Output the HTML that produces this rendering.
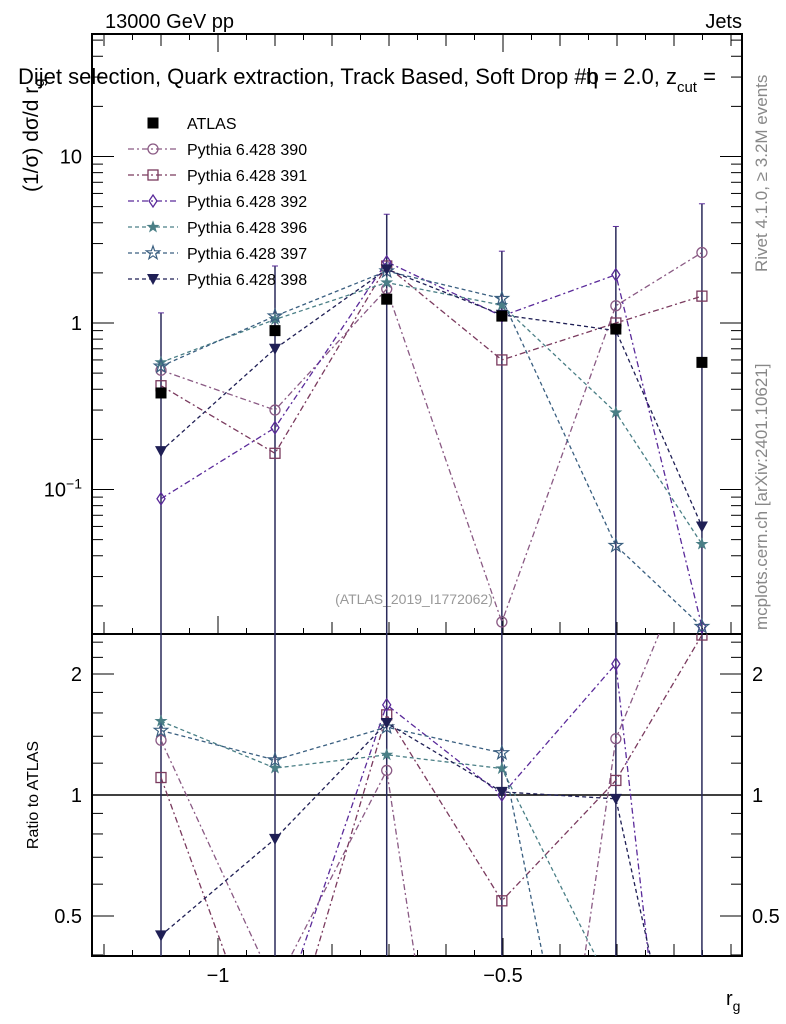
<!DOCTYPE html>
<html><head><meta charset="utf-8"><style>
html,body{margin:0;background:#fff;overflow:hidden;width:786px;height:1024px;}
svg{display:block;font-family:"Liberation Sans",sans-serif;}
</style></head><body>
<svg id="c" width="786" height="1024" xmlns="http://www.w3.org/2000/svg" overflow="hidden">
<text x="105" y="28" font-size="20">13000 GeV pp</text>
<text x="742" y="28" font-size="20" text-anchor="end">Jets</text>
<text x="18" y="84" font-size="22">Dijet selection, Quark extraction, Track Based, Soft Drop #b<tspan dx="-13">η</tspan> = 2.0, z<tspan font-size="15" dy="8">cut</tspan><tspan dy="-8"> =</tspan></text>
<text transform="translate(38,192) rotate(-90)" font-size="21">(1/σ) dσ/d r<tspan font-size="15" dy="6">g</tspan></text>
<text transform="translate(38,795) rotate(-90)" font-size="16" text-anchor="middle">Ratio to ATLAS</text>
<text x="726" y="1005" font-size="20">r<tspan font-size="14" dy="6">g</tspan></text>
<text transform="translate(767,272) rotate(-90)" font-size="17" fill="#888">Rivet 4.1.0, ≥ 3.2M events</text>
<text transform="translate(767,630) rotate(-90)" font-size="17" fill="#888">mcplots.cern.ch [arXiv:2401.10621]</text>
<text x="414" y="604" font-size="14" fill="#999" text-anchor="middle">(ATLAS_2019_I1772062)</text>
<g id="g"></g>
</svg>
<script>
const xs=[-1.1,-0.9,-0.704,-0.502,-0.302,-0.151];
const atlas=[0.38,0.90,1.39,1.10,0.92,0.58];
const s390=[0.52,0.30,1.60,0.016,1.27,2.65];
const s391=[0.42,0.165,2.2,0.60,1.0,1.45];
const s392=[0.088,0.235,2.33,1.10,1.95,0.015];
const s396=[0.58,1.05,1.75,1.28,0.29,0.047];
const s397=[0.55,1.10,2.05,1.40,0.046,0.015];
const s398=[0.17,0.70,2.10,1.12,0.90,0.06];
const errTop=[1.15,2.2,4.5,2.7,3.8,5.2];
const series=[
 {n:"Pythia 6.428 390",v:s390,c:"#8a5a84",d:"6,3,2,3",m:"circle"},
 {n:"Pythia 6.428 391",v:s391,c:"#7a3a5e",d:"6,3,2,3",m:"square"},
 {n:"Pythia 6.428 392",v:s392,c:"#5a2a9a",d:"6,3,2,3",m:"diamond"},
 {n:"Pythia 6.428 396",v:s396,c:"#4a7f86",d:"4,3",m:"star"},
 {n:"Pythia 6.428 397",v:s397,c:"#3a5f80",d:"4,3",m:"ostar"},
 {n:"Pythia 6.428 398",v:s398,c:"#1f1f55",d:"4,3",m:"tri"}];
const L=92,R=742,T=34,M=634,B=956;
const X=v=>218+(v+1)*570;
const Y=v=>323-166.5*Math.log10(v);
const YR=r=>795-121*Math.log2(r);
const g=document.getElementById('g');
const NS="http://www.w3.org/2000/svg";
function el(t,a,p){const e=document.createElementNS(NS,t);for(const k in a)e.setAttribute(k,a[k]);(p||g).appendChild(e);return e;}
function clip(id,y0,y1){const d=el('defs',{});const cp=el('clipPath',{id:id},d);el('rect',{x:L,y:y0,width:R-L,height:y1-y0},cp);}
clip('cm',T,M);clip('cr',M,B);
let f=el('rect',{x:L,y:T,width:R-L,height:M-T,fill:'none',stroke:'#000','stroke-width':2});


f=el('rect',{x:L,y:M,width:R-L,height:B-M,fill:'none',stroke:'#000','stroke-width':2});


for(let k=-24;k<=-1;k++){const v=k*0.05;const x=X(v);if(x<L||x>R)continue;const maj=Math.abs(v*10-Math.round(v*10))<1e-6;const len=maj?(Math.abs(v*2-Math.round(v*2))<1e-6?18:12):6;
 for(const y0 of [M,B]){el('line',{x1:x,x2:x,y1:y0,y2:y0-len,stroke:'#000'});}
 el('line',{x1:x,x2:x,y1:T,y2:T+len,stroke:'#000'});}
const xl=[-1,-0.5];
xl.forEach(v=>{const t=el('text',{x:X(v),y:982,'font-size':20,'text-anchor':'middle'});t.textContent=(v<0?'−':'')+Math.abs(v);

});
for(let e=-2;e<=1;e++)for(let m=1;m<10;m++){const v=m*Math.pow(10,e);const y=Y(v);if(y<T||y>M)continue;const len=m==1?22:11;
 el('line',{x1:L,x2:L+len,y1:y,y2:y,stroke:'#000'});el('line',{x1:R,x2:R-len,y1:y,y2:y,stroke:'#000'});}
[[10,'10'],[1,'1']].forEach(a=>{const t=el('text',{x:82,y:Y(a[0])+7,'font-size':20,'text-anchor':'end'});t.textContent=a[1];

});
{const t=el('text',{x:82,y:Y(0.1)+7,'font-size':20,'text-anchor':'end'});t.innerHTML='10<tspan font-size="14" dy="-8">−1</tspan>';

}
const rmin=[0.4,0.6,0.7,0.8,0.9,1.2,1.4,1.6,1.8,2.2,2.4];
rmin.forEach(r=>{const y=YR(r);if(y<M||y>B)return;el('line',{x1:L,x2:L+11,y1:y,y2:y,stroke:'#000'});el('line',{x1:R,x2:R-11,y1:y,y2:y,stroke:'#000'});});
[0.5,1,2].forEach(r=>{const y=YR(r);el('line',{x1:L,x2:L+22,y1:y,y2:y,stroke:'#000'});el('line',{x1:R,x2:R-22,y1:y,y2:y,stroke:'#000'});
 for(const [x,a] of [[82,'end'],[752,'start']]){const t=el('text',{x:x,y:y+7,'font-size':20,'text-anchor':a});t.textContent=String(r);
 
 }});
el('line',{x1:L,x2:R,y1:YR(1),y2:YR(1),stroke:'#000','stroke-width':1.5});
function marker(p,m,x,y,c,s){s=s||1;let e;
 if(m=='circle')e=el('circle',{cx:x,cy:y,r:5*s,fill:'none',stroke:c,'stroke-width':1.3},p);
 else if(m=='square')e=el('rect',{x:x-5*s,y:y-5*s,width:10*s,height:10*s,fill:'none',stroke:c,'stroke-width':1.3},p);
 else if(m=='fsquare')e=el('rect',{x:x-5.5,y:y-5.5,width:11,height:11,fill:c},p);
 else if(m=='diamond')e=el('polygon',{points:`${x},${y-6*s} ${x+4*s},${y} ${x},${y+6*s} ${x-4*s},${y}`,fill:'none',stroke:c,'stroke-width':1.3},p);
 else if(m=='tri')e=el('polygon',{points:`${x-6*s},${y-5*s} ${x+6*s},${y-5*s} ${x},${y+6*s}`,fill:c},p);
 else{const r1=(m=='star'?5:7)*s,r2=r1*0.4;let pts=[];for(let i=0;i<10;i++){const a=-Math.PI/2+i*Math.PI/5,r=i%2?r2:r1;pts.push((x+r*Math.cos(a)).toFixed(1)+','+(y+r*Math.sin(a)).toFixed(1));}
  e=el('polygon',{points:pts.join(' '),fill:m=='star'?c:'none',stroke:c,'stroke-width':1.2},p);}
 return e;}
const gm=el('g',{'clip-path':'url(#cm)'});
const gr=el('g',{'clip-path':'url(#cr)'});
xs.forEach((v,i)=>{const x=X(v);
 const eb=el('line',{x1:x,x2:x,y1:Y(errTop[i]),y2:M,stroke:'#2a2a5a','stroke-width':1.5},gm);
 
 
 el('line',{x1:x-3,x2:x+3,y1:Y(errTop[i]),y2:Y(errTop[i]),stroke:'#5a2a9a'},gm);
 const er=el('line',{x1:x,x2:x,y1:M,y2:B,stroke:'#2a2a5a','stroke-width':1.5},gr);
 
 });
series.forEach((s,k)=>{
 const pm=el('polyline',{points:s.v.map((v,i)=>X(xs[i])+','+Y(v)).join(' '),fill:'none',stroke:s.c,'stroke-width':1.3,'stroke-dasharray':s.d},gm);
 
 
 const pr=el('polyline',{points:s.v.map((v,i)=>X(xs[i])+','+YR(v/atlas[i])).join(' '),fill:'none',stroke:s.c,'stroke-width':1.3,'stroke-dasharray':s.d},gr);
 
 
 s.v.forEach((v,i)=>{const a=marker(gm,s.m,X(xs[i]),Y(v),s.c);
  
  
  const b=marker(gr,s.m,X(xs[i]),YR(v/atlas[i]),s.c);
  
  });
});
atlas.forEach((v,i)=>{const a=marker(gm,'fsquare',X(xs[i]),Y(v),'#000');
 
 });
const lg=el('g',{});
{const y=123;marker(lg,'fsquare',153,y,'#000');const t=el('text',{x:187,y:y+6,'font-size':16},lg);t.textContent='ATLAS';
 }
series.forEach((s,k)=>{const y=149+k*26;
 el('line',{x1:128,x2:178,y1:y,y2:y,stroke:s.c,'stroke-width':1.3,'stroke-dasharray':s.d},lg);
 marker(lg,s.m,153,y,s.c);
 const t=el('text',{x:187,y:y+6,'font-size':16},lg);t.textContent=s.n;
 
 });
</script>
</body></html>
